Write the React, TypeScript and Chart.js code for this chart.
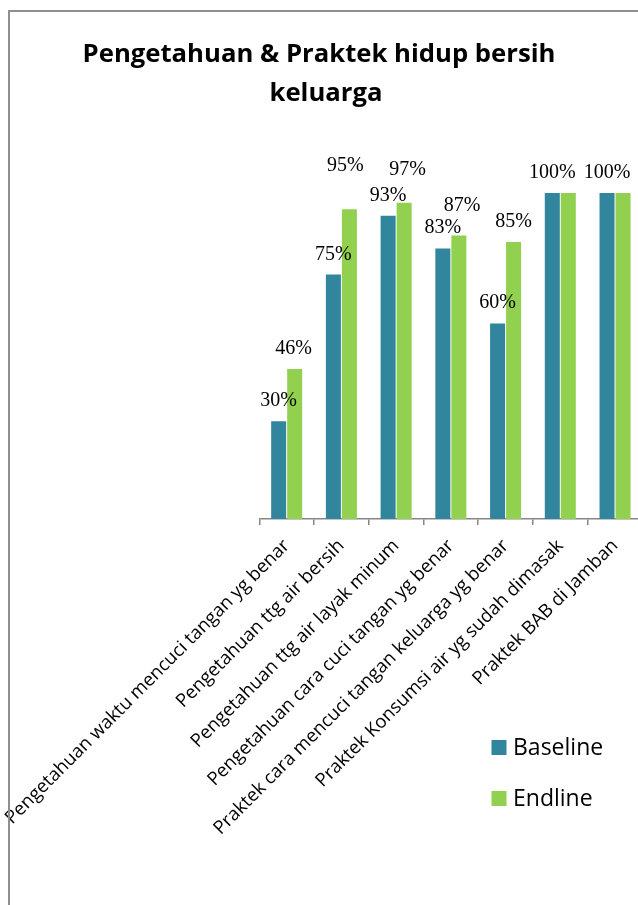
import React, { useEffect, useRef } from 'react';
import { Chart, registerables } from 'chart.js';

Chart.register(...registerables);

const categories = [
  'Pengetahuan waktu mencuci tangan yg benar',
  'Pengetahuan ttg air bersih',
  'Pengetahuan ttg air layak minum',
  'Pengetahuan cara cuci tangan yg benar',
  'Praktek cara mencuci tangan keluarga yg benar',
  'Praktek Konsumsi air yg sudah dimasak',
  'Praktek BAB di Jamban',
];
const baseline = [30, 75, 93, 83, 60, 100, 100];
const endline = [46, 95, 97, 87, 85, 100, 100];
const seriesNames = ['Baseline', 'Endline'];
const titleLines = ['Pengetahuan & Praktek hidup bersih', 'keluarga'];
const baselineShowLabel = [true, true, true, true, true, true, true];
const endlineShowLabel = [true, true, true, true, true, false, false];
const endlineLabelLift = [0, 23, 13, 9, 0, 0, 0];
const endlineLabelShift = [-1, -4, 3.5, 3.3, 0, 0, 0];
const yMax = 100;

const BLUE = '#31859C';
const GREEN = '#92D050';
const AXIS = '#868686';
const SANS = "'Open Sans', 'Noto Sans', sans-serif";
const SERIF = "'Liberation Serif', 'DejaVu Serif', serif";

const CW = 660;
const CH = 905;

const decorPlugin = {
  id: 'decor',
  afterDatasetsDraw(chart: any) {
    const ctx = chart.ctx;
    ctx.save();
    ctx.fillStyle = '#000';
    ctx.font = `20px ${SERIF}`;
    ctx.textAlign = 'center';
    ctx.textBaseline = 'alphabetic';
    const m0 = chart.getDatasetMeta(0);
    m0.data.forEach((el: any, i: number) => {
      if (!baselineShowLabel[i]) return;
      ctx.fillText(`${baseline[i]}%`, el.x, el.y - 15);
    });
    const m1 = chart.getDatasetMeta(1);
    m1.data.forEach((el: any, i: number) => {
      if (!endlineShowLabel[i]) return;
      ctx.fillText(`${endline[i]}%`, el.x + endlineLabelShift[i], el.y - 15 - endlineLabelLift[i]);
    });
    ctx.restore();
  },
  afterDraw(chart: any) {
    const ctx = chart.ctx;
    ctx.save();
    // title
    ctx.fillStyle = '#000';
    ctx.font = `bold 25.7px ${SANS}`;
    ctx.textAlign = 'center';
    ctx.textBaseline = 'alphabetic';
    ctx.fillText(titleLines[0], 319, 62);
    ctx.fillText(titleLines[1], 326, 101);
    // legend
    const colors = [BLUE, GREEN];
    ctx.font = `23px ${SANS}`;
    ctx.textAlign = 'left';
    ctx.textBaseline = 'middle';
    seriesNames.forEach((name, i) => {
      const y = 740 + i * 51;
      ctx.fillStyle = colors[i];
      ctx.fillRect(491.5, y, 15, 15);
      ctx.fillStyle = '#000';
      ctx.fillText(name, 513, y + 8);
    });
    ctx.restore();
  },
};

export default function App() {
  const ref = useRef<HTMLCanvasElement | null>(null);
  useEffect(() => {
    if (!ref.current) return;
    const chart = new Chart(ref.current, {
      type: 'bar',
      data: {
        labels: categories,
        datasets: [
          { label: seriesNames[0], data: baseline, backgroundColor: BLUE, categoryPercentage: 0.585, barPercentage: 0.9375 },
          { label: seriesNames[1], data: endline, backgroundColor: GREEN, categoryPercentage: 0.585, barPercentage: 0.9375 },
        ],
      },
      options: {
        responsive: false,
        animation: false,
        devicePixelRatio: 1,
        layout: { padding: { left: 259.3, right: CW - 642.4, top: 193, bottom: 0 } },
        plugins: { legend: { display: false }, title: { display: false }, tooltip: { enabled: false } },
        scales: {
          y: { display: false, min: 0, max: yMax },
          x: {
            afterFit: (scale: any) => {
              scale.height = CH - 519;
              scale.paddingLeft = 0;
              scale.paddingRight = 0;
            },
            border: { display: true, color: AXIS, width: 1.5 },
            grid: { display: true, drawOnChartArea: false, drawTicks: true, tickLength: 6, color: AXIS, lineWidth: 1.5, offset: true },
            ticks: {
              autoSkip: false,
              minRotation: 45,
              maxRotation: 45,
              padding: 10,
              color: '#000',
              font: { family: SANS, size: 18.5 },
            },
          },
        },
      },
      plugins: [decorPlugin],
    });
    return () => chart.destroy();
  }, []);
  return (
    <div style={{ position: 'fixed', left: 0, top: 0, width: 638, height: 905, overflow: 'hidden', background: '#fff' }}>
      <canvas ref={ref} width={CW} height={CH} style={{ position: 'absolute', left: 0, top: 0, width: CW, height: CH }} />
      <div style={{ position: 'absolute', left: 8, top: 10, width: 700, height: 1000, borderLeft: '2px solid #8f8f8f', borderTop: '2px solid #8f8f8f', pointerEvents: 'none' }} />
    </div>
  );
}
